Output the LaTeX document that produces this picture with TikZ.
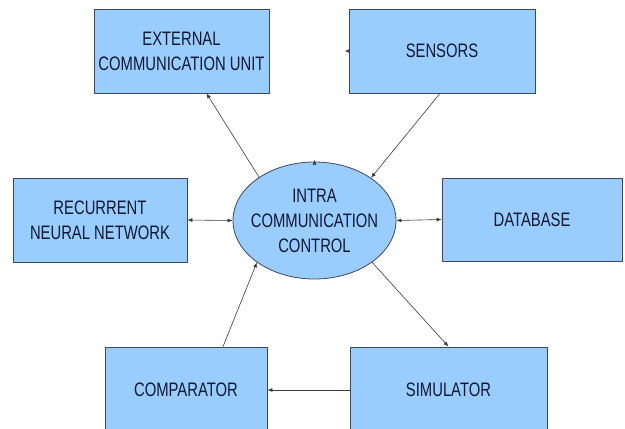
\documentclass[tikz,border=0pt]{standalone}
\usepackage{fontspec}
\setmainfont{Liberation Sans}[FakeStretch=0.76]
\usetikzlibrary{shapes.geometric,arrows.meta}
\definecolor{boxfill}{HTML}{99CCFF}
\definecolor{boxline}{HTML}{3E4858}
\definecolor{txt}{HTML}{101830}
\definecolor{linec}{HTML}{3A3A3A}
\begin{document}
\begin{tikzpicture}[x=1pt,y=-1pt,
  every node/.style={font=\fontsize{19.5}{25}\selectfont, text=txt, align=center, inner sep=0pt},
  blk/.style={draw=boxline, fill=boxfill, line width=0.8pt, rectangle, minimum width=#1, minimum height=84pt},
  oval/.style={draw=boxline, fill=boxfill, line width=0.8pt, ellipse, minimum width=163pt, minimum height=117pt},
  arr/.style={draw=linec, line width=0.6pt, -{Latex[length=5pt,width=4pt]}},
  darr/.style={draw=linec, line width=0.6pt, {Latex[length=5pt,width=4pt]}-{Latex[length=5pt,width=4pt]}}
]
\useasboundingbox (0,0) rectangle (625,429);
\fill[white] (0,0) rectangle (625,429);
\node[blk=175pt] (ext) at (181.5,51) {EXTERNAL\\COMMUNICATION UNIT};
\node[blk=186pt] (sens) at (442,51) {SENSORS};
\node[blk=174pt] (rnn) at (100,220) {RECURRENT\\NEURAL NETWORK};
\node[blk=180pt, minimum height=83pt] (db) at (532,219.5) {DATABASE};
\node[blk=162pt, minimum height=86pt] (comp) at (186,390) {COMPARATOR};
\node[blk=197pt, minimum height=86pt] (sim) at (448.5,390) {SIMULATOR};
\node[oval] (ell) at (314.5,220.5) {};
\node (ellt) at (ell.center) {INTRA\\COMMUNICATION\\CONTROL};
% connectors
\draw[arr] (ell.142) -- ([xshift=25pt]ext.south);
\draw[arr] ([xshift=-2pt]sens.south) -- (ell.37);
\draw[darr] (rnn.east) -- (ell.west);
\draw[darr] (ell.east) -- (db.west);
\draw[arr] ([xshift=37pt]comp.north) -- (ell.216);
\draw[arr] (ell.324) -- (sim.north);
\draw[arr] (sim.west) -- (comp.east);
% stray arrowheads
\draw[arr] ([yshift=-1pt]ell.north) -- ++(0,-3);
\draw[arr] ([xshift=-1pt]sens.west) -- ++(-3,0);
\end{tikzpicture}
\end{document}
